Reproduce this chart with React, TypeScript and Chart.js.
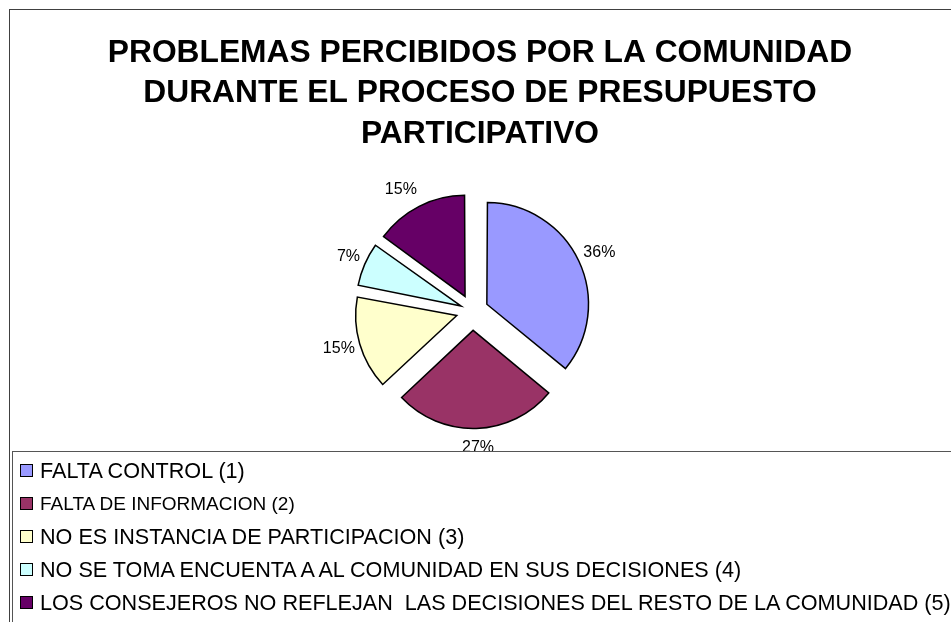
import React, { useEffect, useRef } from 'react';
import { Chart, registerables, layouts } from 'chart.js';

Chart.register(...registerables);

const FONT = "'Liberation Sans', Arial, Helvetica, sans-serif";

const titleLines = [
  'PROBLEMAS PERCIBIDOS POR LA COMUNIDAD',
  'DURANTE EL PROCESO DE PRESUPUESTO',
  'PARTICIPATIVO',
];

const categories = [
  'FALTA CONTROL (1)',
  'FALTA DE INFORMACION (2)',
  'NO ES INSTANCIA DE PARTICIPACION (3)',
  'NO SE TOMA ENCUENTA A AL COMUNIDAD EN SUS DECISIONES (4)',
  'LOS CONSEJEROS NO REFLEJAN  LAS DECISIONES DEL RESTO DE LA COMUNIDAD (5)',
];

const percentages = [36, 27, 15, 7, 15];

const sliceColors = ['#9999FF', '#993366', '#FFFFCC', '#CCFFFF', '#660066'];

// distance (px) each slice is pulled out from the centre
const EXPLODE = 19.5;

// percentage labels drawn outside each (exploded) slice
const pctLabels = {
  id: 'pctLabels',
  afterDatasetsDraw(chart: any) {
    const meta = chart.getDatasetMeta(0);
    const ds = chart.data.datasets[0];
    const total = ds.data.reduce((a: number, b: number) => a + b, 0);
    const ctx = chart.ctx;
    ctx.save();
    ctx.font = `16px ${FONT}`;
    ctx.fillStyle = '#000';
    ctx.textAlign = 'center';
    ctx.textBaseline = 'middle';
    meta.data.forEach((arc: any, i: number) => {
      const { x, y, startAngle, endAngle, outerRadius, circumference } = arc.getProps(
        ['x', 'y', 'startAngle', 'endAngle', 'outerRadius', 'circumference'],
        true
      );
      const off = arc.options.offset || 0;
      const fix = 1 - Math.sin(Math.min(Math.PI, circumference || 0));
      const shift = (off / 4) * (1 + fix);
      const mid = (startAngle + endAngle) / 2;
      const ux = Math.cos(mid);
      const uy = Math.sin(mid);
      const text = Math.round((ds.data[i] / total) * 100) + '%';
      const w = ctx.measureText(text).width;
      const edge = outerRadius + shift;
      const px = x + ux * edge;
      const py = y + uy * edge;
      const side = Math.max(-1, Math.min(1, ux / 0.3));
      const lx = px + side * (w / 2) + ux * 5;
      const ly = py + uy * 19;
      ctx.fillText(text, lx, ly);
    });
    ctx.restore();
  },
};

// empty box on the right so the pie sits slightly left of the centred title
const rightSpacer = {
  id: 'rightSpacer',
  beforeInit(chart: any) {
    const box: any = {
      position: 'right',
      weight: 0,
      fullSize: false,
      options: {},
      width: 0,
      height: 0,
      left: 0,
      top: 0,
      right: 0,
      bottom: 0,
      isHorizontal() {
        return false;
      },
      update(_maxWidth: number, maxHeight: number) {
        this.width = 15;
        this.height = maxHeight;
      },
      draw() {},
    };
    layouts.addBox(chart, box);
  },
};

export default function App() {
  const canvasRef = useRef<HTMLCanvasElement | null>(null);

  useEffect(() => {
    document.body.style.margin = '0';
    document.body.style.overflow = 'hidden';
    const canvas = canvasRef.current;
    if (!canvas) return;
    Chart.defaults.font.family = FONT;

    const total = percentages.reduce((a, b) => a + b, 0);
    const offsets = percentages.map((v) => {
      const circ = (v / total) * Math.PI * 2;
      return (4 * EXPLODE) / (2 - Math.sin(Math.min(Math.PI, circ)));
    });

    let chart: Chart | null = null;
    try {
      chart = new Chart(canvas, {
        type: 'pie',
        data: {
          labels: categories,
          datasets: [
            {
              data: percentages,
              backgroundColor: sliceColors,
              borderColor: '#000000',
              borderWidth: 1.5,
              borderJoinStyle: 'miter',
              offset: offsets,
              hoverOffset: 0,
              radius: 98,
            } as any,
          ],
        },
        options: {
          animation: false,
          responsive: false,
          events: [],
          layout: { padding: { left: 9, right: 0, top: 0, bottom: 154.25 } },
          plugins: {
            legend: { display: false },
            tooltip: { enabled: false },
            title: {
              display: true,
              text: titleLines,
              color: '#000',
              font: { family: FONT, size: 31.75, weight: 'bold', lineHeight: '40.5px' },
              padding: { top: 32.75, bottom: 0 },
            },
          },
        } as any,
        plugins: [pctLabels, rightSpacer],
      });
    } catch (e) {
      console.error(e);
    }
    return () => {
      if (chart) chart.destroy();
    };
  }, []);

  const legendFontPx = [21.6, 19, 21.6, 21.6, 21.6];

  return (
    <div
      style={{
        position: 'relative',
        width: 951,
        height: 622,
        overflow: 'hidden',
        background: '#fff',
        fontFamily: FONT,
      }}
    >
      <div
        style={{
          position: 'absolute',
          left: 9,
          top: 9,
          width: 1000,
          height: 700,
          borderTop: '1px solid #404040',
          borderLeft: '1px solid #404040',
        }}
      />
      <canvas
        ref={canvasRef}
        width={951}
        height={622}
        style={{ position: 'absolute', left: 0, top: 0, display: 'block' }}
      />
      <div
        style={{
          position: 'absolute',
          left: 12,
          top: 451,
          width: 1000,
          height: 300,
          borderTop: '1px solid #555',
          borderLeft: '1px solid #555',
          paddingTop: 1.5,
          boxSizing: 'border-box',
          color: '#000',
        }}
      >
        {categories.map((c, i) => (
          <div
            key={c}
            style={{ display: 'flex', alignItems: 'center', height: 33, whiteSpace: 'pre' }}
          >
            <span
              style={{
                width: 11,
                height: 11,
                border: '1px solid #000',
                background: sliceColors[i],
                marginLeft: 7,
                marginRight: 7,
                flex: 'none',
              }}
            />
            <span style={{ fontSize: legendFontPx[i], lineHeight: '33px' }}>{c}</span>
          </div>
        ))}
      </div>
    </div>
  );
}
